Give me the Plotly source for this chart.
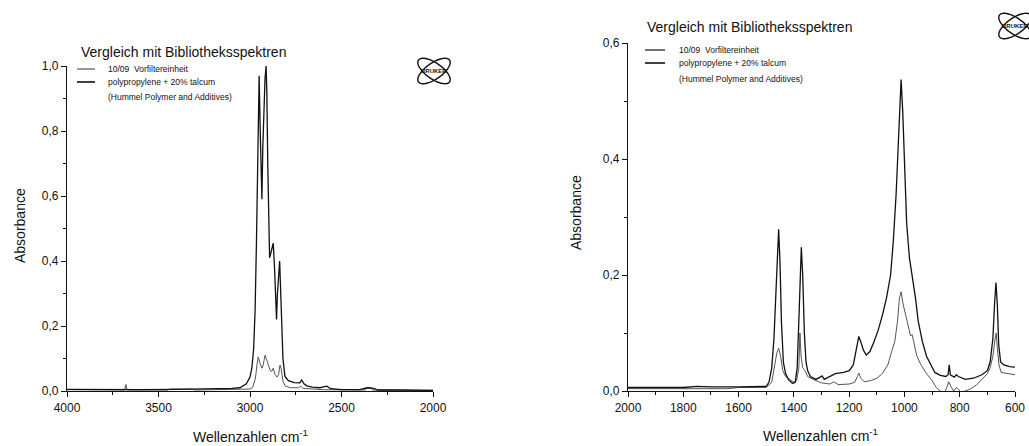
import numpy as np
import plotly.graph_objects as go

# ---------------- data ----------------
# Left panel: 4000-2000 cm-1
left_lib_wn = [4000, 3800, 3600, 3400, 3200, 3100, 3055, 3020, 3000, 2990, 2980, 2972, 2965, 2960,
               2955, 2950, 2945, 2940, 2935, 2930, 2925, 2918, 2912, 2908, 2903, 2898, 2893, 2888,
               2880, 2873, 2866, 2860, 2855, 2850, 2843, 2838, 2832, 2826, 2820, 2809, 2790, 2760,
               2740, 2727, 2718, 2705, 2690, 2660, 2618, 2580, 2560, 2500, 2400, 2360, 2330, 2300,
               2200, 2000]
left_lib_abs = [0.005, 0.004, 0.004, 0.005, 0.006, 0.008, 0.01, 0.022, 0.043, 0.07, 0.13, 0.25, 0.45, 0.67,
                0.85, 0.97, 0.82, 0.70, 0.59, 0.75, 0.88, 0.96, 1.0, 0.92, 0.7, 0.50, 0.41, 0.42,
                0.44, 0.455, 0.38, 0.28, 0.22, 0.30, 0.36, 0.40, 0.30, 0.17, 0.10, 0.045, 0.032, 0.026,
                0.024, 0.025, 0.034, 0.022, 0.016, 0.012, 0.01, 0.015, 0.007, 0.004, 0.004, 0.01, 0.009, 0.003,
                0.003, 0.002]

left_smp_wn = [4000, 3700, 3685, 3678, 3672, 3450, 3440, 3320, 3300, 3200, 3050, 3000, 2985, 2970,
               2962, 2955, 2945, 2935, 2928, 2918, 2905, 2891, 2882, 2873, 2864, 2852, 2844, 2836,
               2830, 2820, 2808, 2780, 2735, 2722, 2710, 2600, 2370, 2360, 2340, 2330, 2000]
left_smp_abs = [0.004, 0.003, 0.003, 0.02, 0.003, 0.003, 0.006, 0.006, 0.003, 0.004, 0.004, 0.006, 0.012, 0.04,
                0.08, 0.105, 0.085, 0.07, 0.08, 0.11, 0.09, 0.065, 0.06, 0.07, 0.052, 0.043, 0.05, 0.08,
                0.07, 0.03, 0.016, 0.01, 0.01, 0.015, 0.008, 0.004, 0.003, 0.01, 0.01, 0.003, 0.002]

# Right panel: 2000-600 cm-1
right_lib_wn = [2000, 1800, 1750, 1700, 1600, 1520, 1500, 1490, 1480, 1472, 1465, 1460, 1455, 1450,
                1445, 1438, 1430, 1420, 1405, 1395, 1388, 1382, 1377, 1373, 1368, 1362, 1356, 1350,
                1340, 1320, 1305, 1298, 1290, 1270, 1250, 1220, 1200, 1185, 1175, 1165, 1158, 1148,
                1138, 1125, 1110, 1095, 1080, 1065, 1050, 1040, 1030, 1022, 1016, 1012, 1006, 1000,
                992, 982, 972, 960, 950, 935, 920, 905, 898, 890, 870, 850, 842, 838, 834, 820, 812,
                805, 780, 750, 720, 700, 690, 680, 674, 669, 664, 659, 652, 640, 620, 600]
right_lib_abs = [0.006, 0.006, 0.008, 0.007, 0.007, 0.007, 0.008, 0.015, 0.04, 0.09, 0.17, 0.24, 0.279, 0.22,
                 0.12, 0.05, 0.03, 0.02, 0.013, 0.015, 0.04, 0.12, 0.22, 0.248, 0.2, 0.1, 0.05, 0.035,
                 0.025, 0.02, 0.024, 0.026, 0.02, 0.025, 0.03, 0.032, 0.035, 0.045, 0.07, 0.094, 0.085, 0.07,
                 0.062, 0.068, 0.085, 0.105, 0.13, 0.16, 0.2, 0.26, 0.34, 0.44, 0.52, 0.537, 0.48, 0.38,
                 0.29, 0.23, 0.2, 0.16, 0.12, 0.085, 0.06, 0.045, 0.04, 0.032, 0.027, 0.025, 0.028, 0.045, 0.028, 0.024, 0.028,
                 0.025, 0.02, 0.022, 0.028, 0.035, 0.05, 0.09, 0.15, 0.187, 0.15, 0.08, 0.05, 0.045, 0.042, 0.041]

right_smp_wn = [2000, 1800, 1700, 1640, 1600, 1520, 1500, 1480, 1470, 1462, 1455, 1448, 1440, 1430,
                1415, 1400, 1390, 1382, 1378, 1374, 1368, 1360, 1350, 1330, 1300, 1270, 1255, 1240,
                1200, 1180, 1170, 1165, 1158, 1145, 1120, 1100, 1080, 1060, 1045, 1035, 1025, 1018,
                1012, 1005, 995, 985, 978, 972, 965, 955, 940, 920, 900, 885, 870, 855, 845, 840,
                832, 822, 812, 805, 795, 780, 760, 740, 720, 700, 690, 680, 672, 668, 664, 658, 650,
                630, 600]
right_smp_abs = [0.004, 0.004, 0.005, 0.004, 0.006, 0.005, 0.006, 0.015, 0.04, 0.065, 0.074, 0.06, 0.035, 0.025,
                 0.02, 0.015, 0.018, 0.04, 0.1, 0.06, 0.04, 0.035, 0.025, 0.02, 0.014, 0.012, 0.016, 0.011,
                 0.012, 0.015, 0.025, 0.031, 0.022, 0.016, 0.018, 0.022, 0.03, 0.045, 0.07, 0.085, 0.12, 0.16,
                 0.171, 0.15, 0.13, 0.11, 0.095, 0.097, 0.08, 0.06, 0.045, 0.03, 0.018, 0.006, 0.0, -0.003, 0.008, 0.016,
                 0.008, 0.0, 0.006, 0.003, -0.002, 0.0, 0.004, 0.01, 0.02, 0.03, 0.04, 0.06, 0.09, 0.1, 0.075, 0.045, 0.032,
                 0.03, 0.028]

title_text = "Vergleich mit Bibliotheksspektren"
legend_names = ["10/09  Vorfiltereinheit", "polypropylene + 20% talcum", "(Hummel Polymer and Additives)"]
y_title = "Absorbance"
x_title = "Wellenzahlen cm<sup>-1</sup>"

# ---------------- layout helpers ----------------
W, H = 1029, 446
def px(x):
    return x / W
def py(y):
    return 1 - y / H

FONT = "Arial, Liberation Sans, sans-serif"
BLACK = "#111111"
GREY = "#555555"

fig = go.Figure()
fig.add_trace(go.Scatter(x=left_smp_wn, y=left_smp_abs, mode="lines", line=dict(color=GREY, width=1),
                         xaxis="x", yaxis="y", showlegend=False))
fig.add_trace(go.Scatter(x=left_lib_wn, y=left_lib_abs, mode="lines", line=dict(color=BLACK, width=1.3),
                         xaxis="x", yaxis="y", showlegend=False))
fig.add_trace(go.Scatter(x=right_smp_wn, y=right_smp_abs, mode="lines", line=dict(color=GREY, width=1),
                         xaxis="x2", yaxis="y2", showlegend=False))
fig.add_trace(go.Scatter(x=right_lib_wn, y=right_lib_abs, mode="lines", line=dict(color=BLACK, width=1.3),
                         xaxis="x2", yaxis="y2", showlegend=False))

axis_common = dict(showline=True, linecolor=BLACK, linewidth=1.3, ticks="outside", ticklen=5,
                   tickcolor=BLACK, tickwidth=1.2, showgrid=False, zeroline=False, automargin=False,
                   tickfont=dict(family=FONT, size=12, color=BLACK))

fig.update_layout(
    template="none",
    width=W, height=H, margin=dict(l=0, r=0, t=0, b=0, pad=0),
    paper_bgcolor="white", plot_bgcolor="white", separators=",.",
    xaxis=dict(domain=[px(67), px(433)], range=[4000, 2000], dtick=500, anchor="y",
               minor=dict(dtick=250, ticklen=3, tickcolor=BLACK, tickwidth=1, ticks="outside"), **axis_common),
    yaxis=dict(domain=[py(391), py(66)], range=[0, 1.0], dtick=0.2, tickformat=".1f", anchor="x",
               minor=dict(dtick=0.1, ticklen=3, tickcolor=BLACK, tickwidth=1, ticks="outside"), **axis_common),
    xaxis2=dict(domain=[px(628), px(1015)], range=[2000, 600], dtick=200, anchor="y2",
                minor=dict(dtick=100, ticklen=3, tickcolor=BLACK, tickwidth=1, ticks="outside"), **axis_common),
    yaxis2=dict(domain=[py(391), py(43)], range=[0, 0.6], dtick=0.2, tickformat=".1f", anchor="x2",
                minor=dict(dtick=0.1, ticklen=3, tickcolor=BLACK, tickwidth=1, ticks="outside"), **axis_common),
)

ann = []
def text(x, y, t, size, xanchor="center", angle=0):
    ann.append(dict(x=px(x), y=py(y), xref="paper", yref="paper", text=t, showarrow=False,
                    xanchor=xanchor, yanchor="middle", textangle=angle,
                    font=dict(family=FONT, size=size, color=BLACK)))

# titles
text(183, 52, title_text, 14)
text(749, 27, title_text, 14)
# axis titles
text(20, 226, y_title, 14, angle=-90)
text(250, 436, x_title, 14)
text(576, 213, y_title, 14, angle=-90)
text(820, 435, x_title, 14)

shapes = []
def hline(x0, x1, y, color, w):
    shapes.append(dict(type="line", xref="paper", yref="paper", x0=px(x0), x1=px(x1), y0=py(y), y1=py(y),
                       line=dict(color=color, width=w)))

# legends
hline(77, 95, 69, GREY, 1.2)
hline(77, 95, 82, BLACK, 1.6)
text(106, 69, legend_names[0], 8.5, xanchor="left")
text(106, 82, legend_names[1], 8.5, xanchor="left")
text(106, 97, legend_names[2], 8.5, xanchor="left")

hline(645, 665, 50, BLACK, 1.2)
hline(645, 665, 63, BLACK, 1.6)
text(677, 50, legend_names[0], 8.5, xanchor="left")
text(677, 63, legend_names[1], 8.5, xanchor="left")
text(677, 79, legend_names[2], 8.5, xanchor="left")

# Bruker logo (decoration): two crossed ellipses + tiny text
def ellipse_path(cx, cy, rx, ry, rot_deg, n=48):
    t = np.linspace(0, 2 * np.pi, n)
    r = np.deg2rad(rot_deg)
    xs = cx + rx * np.cos(t) * np.cos(r) - ry * np.sin(t) * np.sin(r)
    ys = cy + rx * np.cos(t) * np.sin(r) + ry * np.sin(t) * np.cos(r)
    pts = [f"{px(a):.5f},{py(b):.5f}" for a, b in zip(xs, ys)]
    return "M" + " L".join(pts) + " Z"

for (cx, cy) in [(434, 71), (1015, 26)]:
    for rot in (35, -35):
        shapes.append(dict(type="path", xref="paper", yref="paper", path=ellipse_path(cx, cy, 19, 8, rot),
                           line=dict(color=BLACK, width=1.4)))
    text(cx, cy, "<b>BRUKER</b>", 6)

fig.update_layout(annotations=ann, shapes=shapes)
fig.write_html("out.html", config={"displayModeBar": False},
               post_script="document.body.style.margin='0';document.body.style.overflow='hidden';")
